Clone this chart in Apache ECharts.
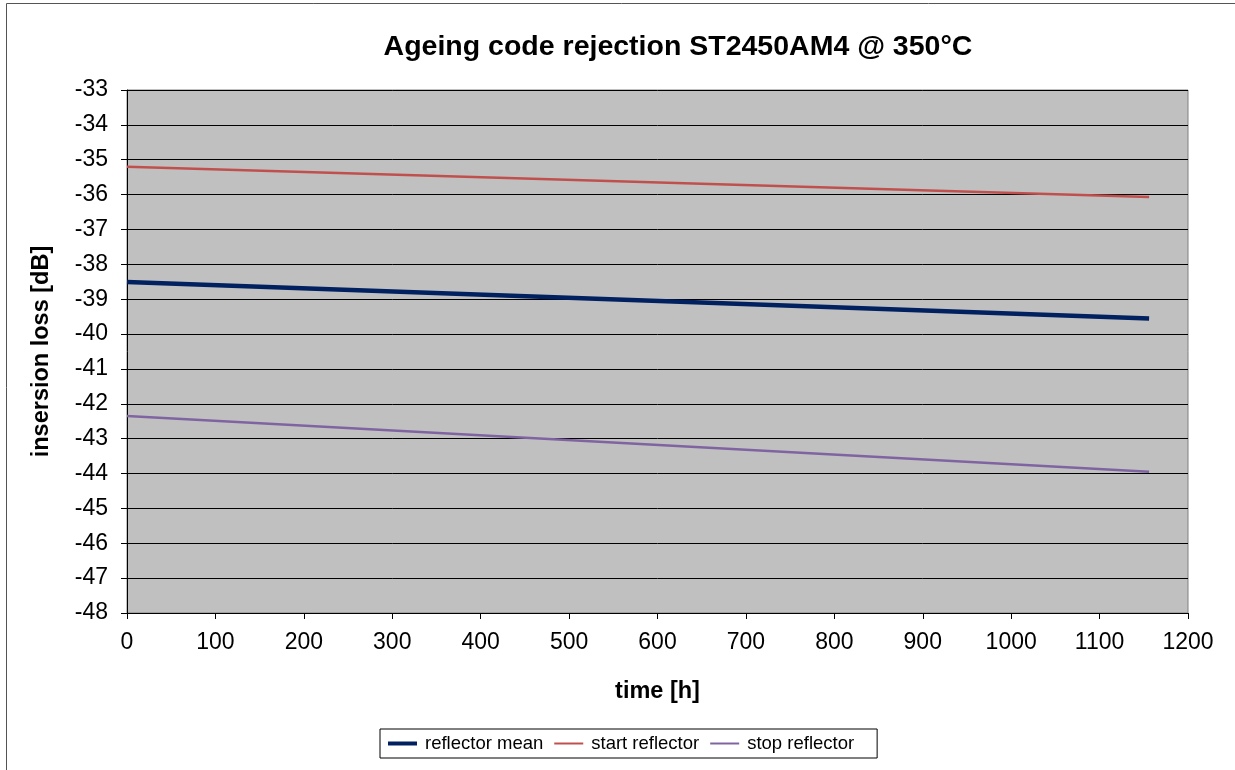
<!DOCTYPE html>
<html>
<head>
<meta charset="utf-8">
<script src="https://cdn.jsdelivr.net/npm/echarts@6/dist/echarts.min.js"></script>
<style>html,body{margin:0;padding:0;background:#fff}#c{width:1235px;height:770px}</style>
</head>
<body>
<div id="c"></div>
<script>
const timeH = [0, 1156];
const reflectorMean = [-38.51, -39.55];
const startReflector = [-35.2, -36.07];
const stopReflector = [-42.35, -43.95];
const seriesNames = ['reflector mean', 'start reflector', 'stop reflector'];
const FONT = '"Liberation Sans", Arial, sans-serif';

const pairs = (xs, ys) => xs.map((x, i) => [x, ys[i]]);

const chart = echarts.init(document.getElementById('c'));
chart.setOption({
  animation: false,
  backgroundColor: '#fff',
  title: {
    text: 'Ageing code rejection ST2450AM4 @ 350°C',
    left: 673, top: 28, textAlign: 'center',
    textStyle: { fontFamily: FONT, fontSize: 28.5, fontWeight: 'bold', color: '#000' }
  },
  graphic: [{
    type: 'rect', shape: { x: 6.5, y: 3.5, width: 1240, height: 780 },
    style: { fill: 'none', stroke: '#555', lineWidth: 1 }, silent: true
  }],
  grid: {
    left: 127, right: 47, top: 90, bottom: 157,
    show: true, backgroundColor: '#c0c0c0', borderColor: '#808080', borderWidth: 1
  },
  legend: {
    left: 380, top: 729,
    padding: [5, 23, 5, 8],
    borderColor: '#000', borderWidth: 1, backgroundColor: '#fff',
    itemWidth: 29, itemHeight: 4, itemGap: 11,
    textStyle: { fontFamily: FONT, fontSize: 18.5, color: '#000', padding: [0, 0, 0, 3] },
    data: [
      { name: seriesNames[0], icon: 'path://M0,0H29V4H0Z' },
      { name: seriesNames[1], icon: 'path://M0,0H29V2H0Z' },
      { name: seriesNames[2], icon: 'path://M0,0H29V2H0Z' }
    ]
  },
  xAxis: {
    type: 'value', min: 0, max: 1200, interval: 100,
    name: 'time [h]', nameLocation: 'middle', nameGap: 67,
    nameTextStyle: { fontFamily: FONT, fontSize: 23.5, fontWeight: 'bold', color: '#000' },
    axisLine: { show: true, lineStyle: { color: '#000', width: 1 } },
    axisTick: { show: true, length: 6, lineStyle: { color: '#000' } },
    axisLabel: { fontFamily: FONT, fontSize: 23, color: '#000', margin: 18, formatter: v => String(v) },
    splitLine: { show: false }
  },
  yAxis: {
    type: 'value', min: -48, max: -33, interval: 1,
    name: 'insersion loss [dB]', nameLocation: 'middle', nameGap: 73, nameRotate: 90,
    nameTextStyle: { fontFamily: FONT, fontSize: 23.5, fontWeight: 'bold', color: '#000' },
    axisLine: { show: true, onZero: false, lineStyle: { color: '#000', width: 1 } },
    axisTick: { show: true, length: 6, lineStyle: { color: '#000' } },
    axisLabel: { fontFamily: FONT, fontSize: 23, color: '#000', margin: 19, formatter: v => String(v) },
    splitLine: { show: true, lineStyle: { color: '#000', width: 1 } }
  },
  series: [
    { name: seriesNames[0], type: 'line', data: pairs(timeH, reflectorMean), showSymbol: false,
      lineStyle: { color: '#002060', width: 4.5 }, itemStyle: { color: '#002060' } },
    { name: seriesNames[1], type: 'line', data: pairs(timeH, startReflector), showSymbol: false,
      lineStyle: { color: '#c0504d', width: 2.5 }, itemStyle: { color: '#c0504d' } },
    { name: seriesNames[2], type: 'line', data: pairs(timeH, stopReflector), showSymbol: false,
      lineStyle: { color: '#8064a2', width: 2.5 }, itemStyle: { color: '#8064a2' } }
  ]
});
</script>
</body>
</html>
